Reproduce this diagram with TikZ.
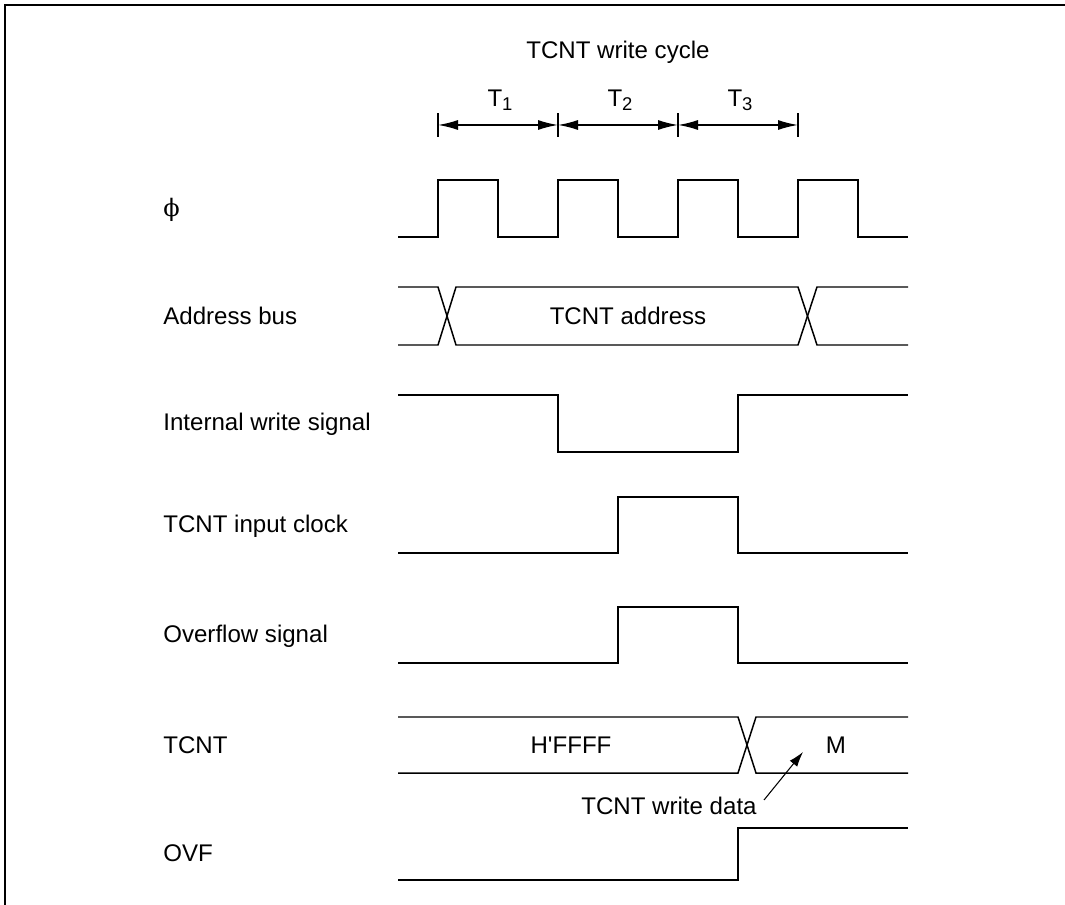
\documentclass[tikz,border=0pt]{standalone}
\usepackage{fontspec}
\setmainfont{Liberation Sans}
\newfontfamily\greekfont{DejaVu Serif}
\usetikzlibrary{arrows.meta}

\newcommand{\tsub}[1]{\raisebox{-2.2pt}{\fontsize{10.5}{12}\selectfont #1}}

\begin{document}
\begin{tikzpicture}[
    x=0.02cm, y=-0.02cm,
    every node/.style={font=\fontsize{13.7}{16}\selectfont, inner sep=0pt},
    wave/.style={line width=0.85pt, line join=miter},
    frame/.style={line width=1.3pt},
    lbl/.style={anchor=west},
    dim/.style={line width=0.85pt, {Latex[length=0.4cm,width=0.2cm]}-{Latex[length=0.4cm,width=0.2cm]}},
    tick/.style={line width=0.85pt},
    note/.style={line width=0.6pt, -{Latex[length=0.3cm,width=0.19cm]}}
]

    \useasboundingbox (0,0) rectangle (1065,905);

    % Frame
    \draw[frame] (5,905) -- (5,5) -- (1065,5);

    % Title
    \node (title) at (618,52) {TCNT write cycle};

    % Cycle ticks
    \coordinate (t0) at (438,125);
    \coordinate (t1) at (558,125);
    \coordinate (t2) at (678,125);
    \coordinate (t3) at (798,125);
    \foreach \t in {t0,t1,t2,t3}
        \draw[tick] ([yshift=-12*0.02cm]\t) -- ([yshift=12*0.02cm]\t);

    % Cycle arrows
    \draw[dim] (t0) -- (t1);
    \draw[dim] (t1) -- (t2);
    \draw[dim] (t2) -- (t3);
    \node (T1) at (500,100) {T\tsub{1}};
    \node (T2) at (620,100) {T\tsub{2}};
    \node (T3) at (740,100) {T\tsub{3}};

    % Signal names
    \node[lbl] (phi) at (163,210) {\greekfont ϕ};
    \node[lbl] (addr) at (163,316) {Address bus};
    \node[lbl] (wr) at (163,424) {Internal write signal};
    \node[lbl] (inclk) at (163,526) {TCNT input clock};
    \node[lbl] (ovsig) at (163,636) {Overflow signal};
    \node[lbl] (tcnt) at (163,745) {TCNT};
    \node[lbl] (ovf) at (163,853) {OVF};

    % Clock
    \draw[wave] (398,237) -- (438,237) -- (438,180) -- (498,180) -- (498,237)
        -- (558,237) -- (558,180) -- (618,180) -- (618,237)
        -- (678,237) -- (678,180) -- (738,180) -- (738,237)
        -- (798,237) -- (798,180) -- (858,180) -- (858,237) -- (908,237);

    % Address bus
    \draw[wave] (398,287) -- (438,287) -- (456,345) -- (798,345) -- (817,287) -- (908,287);
    \draw[wave] (398,345) -- (438,345) -- (456,287) -- (798,287) -- (817,345) -- (908,345);
    \node (addrval) at (628,316) {TCNT address};

    % Internal write signal
    \draw[wave] (398,395) -- (558,395) -- (558,452) -- (738,452) -- (738,395) -- (908,395);

    % TCNT input clock
    \draw[wave] (398,553) -- (618,553) -- (618,497) -- (738,497) -- (738,553) -- (908,553);

    % Overflow signal
    \draw[wave] (398,663) -- (618,663) -- (618,607) -- (738,607) -- (738,663) -- (908,663);

    % TCNT
    \draw[wave] (398,717) -- (738,717) -- (756,773) -- (908,773);
    \draw[wave] (398,773) -- (738,773) -- (756,717) -- (908,717);
    \node (oldval) at (571,745) {H\textquotesingle FFFF};
    \node (newval) at (836,745) {M};

    % Write data note
    \node (wdata) at (669,806) {TCNT write data};
    \coordinate (wtip) at (803,752);
    \draw[note] (764,800) -- (wtip);

    % OVF
    \draw[wave] (398,880) -- (738,880) -- (738,828) -- (908,828);

\end{tikzpicture}
\end{document}
